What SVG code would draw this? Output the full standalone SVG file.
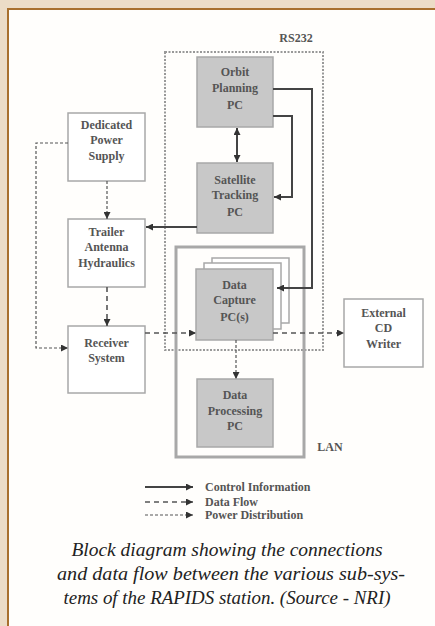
<svg xmlns="http://www.w3.org/2000/svg" width="435" height="626" viewBox="0 0 435 626">
<defs>
<style>
.lbl{font-family:"Liberation Serif",serif;font-weight:bold;font-size:12px;fill:#555;text-anchor:middle}
.box{fill:#fff;stroke:#a8a8a8;stroke-width:1.5}
.pc{fill:#c8c8c8;stroke:#a8a8a8;stroke-width:1.5}
.ctl{fill:none;stroke:#444;stroke-width:2}
.dat{fill:none;stroke:#555;stroke-width:1.6;stroke-dasharray:5 4}
.pwr{fill:none;stroke:#555;stroke-width:1.2;stroke-dasharray:3 2}
.cap{font-family:"Liberation Serif",serif;font-style:italic;font-size:19.5px;fill:#222;text-anchor:middle}
</style>
<marker id="ah" viewBox="0 0 10 10" refX="10" refY="5" markerWidth="7" markerHeight="7" markerUnits="userSpaceOnUse" orient="auto-start-reverse">
<path d="M0,0 L10,5 L0,10 z" fill="#333"/>
</marker>
</defs>
<rect x="0" y="0" width="435" height="626" fill="#ecdcc7"/>
<rect x="8" y="9" width="440" height="630" fill="#fffefc" stroke="#a86f2e" stroke-width="2"/>

<g id="rs232">
<rect x="165" y="52" width="158" height="298" fill="none" stroke="#999" stroke-width="2" stroke-dasharray="2 1.5"/>
<text class="lbl" x="296" y="42" font-size="11">RS232</text>
</g>
<g id="lan">
<rect x="176" y="247" width="128" height="210" fill="none" stroke="#a8a8a8" stroke-width="3"/>
<text class="lbl" x="330" y="451">LAN</text>
</g>

<g id="orbit">
<rect class="pc" x="197" y="57" width="76" height="70"/>
<text class="lbl" x="235" y="76">Orbit</text>
<text class="lbl" x="235" y="92">Planning</text>
<text class="lbl" x="235" y="109">PC</text>
</g>
<g id="satellite">
<rect class="pc" x="197" y="163" width="76" height="70"/>
<text class="lbl" x="235" y="184">Satellite</text>
<text class="lbl" x="235" y="199">Tracking</text>
<text class="lbl" x="235" y="216">PC</text>
</g>
<g id="power">
<rect class="box" x="68" y="113" width="77" height="68"/>
<text class="lbl" x="106.5" y="129">Dedicated</text>
<text class="lbl" x="106.5" y="144">Power</text>
<text class="lbl" x="106.5" y="160">Supply</text>
</g>
<g id="trailer">
<rect class="box" x="68" y="219" width="77" height="68"/>
<text class="lbl" x="106.5" y="236">Trailer</text>
<text class="lbl" x="106.5" y="251">Antenna</text>
<text class="lbl" x="106.5" y="267">Hydraulics</text>
</g>
<g id="receiver">
<rect class="box" x="68" y="326" width="77" height="67"/>
<text class="lbl" x="106.5" y="347">Receiver</text>
<text class="lbl" x="106.5" y="362">System</text>
</g>
<g id="capture">
<rect class="box" x="212" y="258" width="77" height="65" stroke-width="1.2"/>
<rect class="box" x="204" y="263" width="77" height="66" stroke-width="1.2"/>
<rect class="pc" x="196" y="269" width="77" height="71"/>
<text class="lbl" x="234.5" y="289">Data</text>
<text class="lbl" x="234.5" y="304">Capture</text>
<text class="lbl" x="234.5" y="321">PC(s)</text>
</g>
<g id="processing">
<rect class="pc" x="197" y="379" width="76" height="68"/>
<text class="lbl" x="235" y="399">Data</text>
<text class="lbl" x="235" y="415">Processing</text>
<text class="lbl" x="235" y="430">PC</text>
</g>
<g id="cdwriter">
<rect class="box" x="344" y="299" width="79" height="68"/>
<text class="lbl" x="383.5" y="317">External</text>
<text class="lbl" x="383.5" y="332">CD</text>
<text class="lbl" x="383.5" y="348">Writer</text>
</g>

<g id="connectors">
<path class="ctl" d="M237,128 L237,162" marker-start="url(#ah)" marker-end="url(#ah)"/>
<path class="ctl" d="M273,116 L292,116 L292,197 L274,197" marker-end="url(#ah)"/>
<path class="ctl" d="M273,89 L312,89 L312,288 L277,288" marker-end="url(#ah)"/>
<path class="ctl" d="M197,227 L146,227" marker-end="url(#ah)"/>
<path class="pwr" d="M107,181 L107,219" marker-end="url(#ah)"/>
<path class="dat" d="M107,287 L107,326" marker-end="url(#ah)"/>
<path class="pwr" d="M68,143 L36,143 L36,348 L68,348" marker-end="url(#ah)"/>
<path class="dat" d="M145,333 L196,333" marker-end="url(#ah)"/>
<path class="dat" d="M273,333 L344,333" marker-end="url(#ah)"/>
<path class="pwr" d="M236,340 L236,379" marker-end="url(#ah)"/>
</g>

<g id="legend">
<path class="ctl" d="M145,487 L193,487" marker-end="url(#ah)"/>
<path class="dat" d="M145,502 L193,502" marker-end="url(#ah)"/>
<path class="pwr" d="M145,515 L193,515" marker-end="url(#ah)"/>
<text class="lbl" x="205" y="491" style="text-anchor:start">Control Information</text>
<text class="lbl" x="205" y="506" style="text-anchor:start">Data Flow</text>
<text class="lbl" x="205" y="519" style="text-anchor:start">Power Distribution</text>
</g>

<g id="caption">
<text class="cap" x="227" y="556" textLength="311" lengthAdjust="spacingAndGlyphs">Block diagram showing the connections</text>
<text class="cap" x="231" y="580" textLength="348" lengthAdjust="spacingAndGlyphs">and data flow between the various sub-sys-</text>
<text class="cap" x="227" y="604" textLength="327" lengthAdjust="spacingAndGlyphs">tems of the RAPIDS station. (Source - NRI)</text>
</g>
</svg>
